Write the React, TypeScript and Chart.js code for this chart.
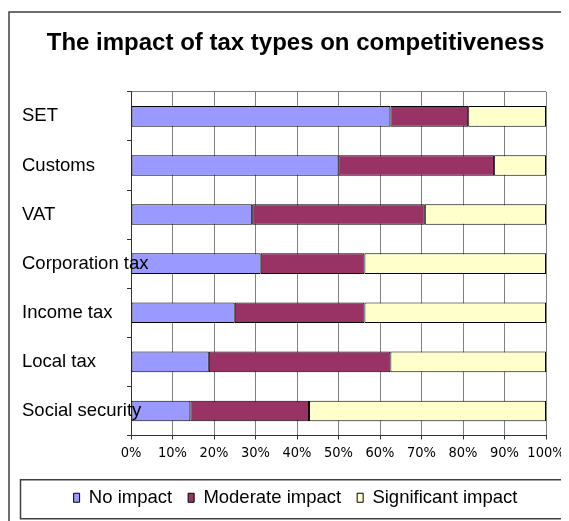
import React, { useEffect, useRef } from "react";
import { Chart, registerables } from "chart.js";

Chart.register(...registerables);

const categories = ["SET", "Customs", "VAT", "Corporation tax", "Income tax", "Local tax", "Social security"];
const noImpact = [62.5, 50, 29.2, 31.25, 25, 18.75, 14.3];
const moderateImpact = [18.75, 37.5, 41.6, 25, 31.25, 43.75, 28.6];
const significantImpact = [18.75, 12.5, 29.2, 43.75, 43.75, 37.5, 57.1];
const seriesNames = ["No impact", "Moderate impact", "Significant impact"];
const seriesColors = ["#9999FF", "#993366", "#FFFFCC"];
const xTicks = [0, 10, 20, 30, 40, 50, 60, 70, 80, 90, 100];
const titleText = "The impact of tax types on competitiveness";

const SANS = '"Liberation Sans", Arial, sans-serif';
const NARROW = '"DejaVu Sans Condensed", "Liberation Sans Narrow", "Arial Narrow", "Liberation Sans", Arial, sans-serif';

const LEGEND_PAD = 16;
const LEGEND_FONT = 18.5;
const Y_AXIS_WIDTH = 109;

const framePlugin = {
  id: "frames",
  afterDraw(chart: any) {
    const ctx = chart.ctx;
    ctx.save();
    ctx.strokeStyle = "#404040";
    ctx.lineWidth = 1.5;
    ctx.beginPath();
    ctx.moveTo(1, chart.height + 10);
    ctx.lineTo(1, 4);
    ctx.lineTo(chart.width + 10, 4);
    ctx.stroke();
    const lg = chart.legend;
    if (lg) {
      const cy = lg.top + LEGEND_PAD + LEGEND_FONT / 2;
      ctx.lineWidth = 1.5;
      ctx.strokeRect(12.5, cy - 18, chart.width - 19, 39);
    }
    ctx.restore();
  },
};

const zeroPad = (s: any) => {
  s.paddingLeft = 0;
  s.paddingRight = 0;
  s.paddingTop = 0;
  s.paddingBottom = 0;
};

export default function App() {
  const ref = useRef<HTMLCanvasElement | null>(null);
  useEffect(() => {
    if (!ref.current) return;
    const values = [noImpact, moderateImpact, significantImpact];
    const chart = new Chart(ref.current, {
      type: "bar",
      data: {
        labels: categories,
        datasets: seriesNames.map((name, i) => ({
          label: name,
          data: values[i],
          backgroundColor: seriesColors[i],
          borderColor: "#000000",
          borderWidth: 1,
          borderSkipped: false,
          barPercentage: 0.42,
          categoryPercentage: 1,
        })),
      },
      options: {
        indexAxis: "y",
        animation: false,
        responsive: false,
        maintainAspectRatio: false,
        layout: { padding: { left: 14, right: 0, top: 0, bottom: 4 } },
        plugins: {
          title: {
            display: true,
            text: titleText,
            color: "#000",
            font: { family: SANS, size: 24, weight: "bold" },
            padding: { top: 21, bottom: 34 },
          },
          legend: {
            position: "bottom",
            align: "center",
            labels: {
              color: "#000",
              font: { family: SANS, size: LEGEND_FONT },
              boxWidth: 6,
              boxHeight: 9,
              padding: LEGEND_PAD,
            },
          },
          tooltip: { enabled: false },
        },
        scales: {
          x: {
            type: "linear",
            stacked: true,
            min: 0,
            max: 100,
            afterBuildTicks: (s: any) => {
              s.ticks = xTicks.map((v) => ({ value: v }));
            },
            afterFit: (s: any) => {
              s.height = 37;
              zeroPad(s);
            },
            ticks: {
              color: "#000",
              font: { family: NARROW, size: 14.5 },
              padding: 5,
              callback: (v: any) => v + "%",
              maxRotation: 0,
              autoSkip: false,
            },
            grid: {
              color: "#808080",
              tickColor: "#333333",
              tickLength: 4,
              lineWidth: 1,
            },
            border: { display: true, color: "#333333", width: 1 },
          },
          y: {
            type: "category",
            stacked: true,
            position: "left",
            afterFit: (s: any) => {
              s.width = Y_AXIS_WIDTH;
              zeroPad(s);
            },
            ticks: {
              color: "#000",
              font: { family: SANS, size: 18.5 },
              mirror: true,
              padding: -Y_AXIS_WIDTH,
              autoSkip: false,
              z: 1,
            },
            grid: {
              offset: true,
              drawOnChartArea: true,
              color: (c: any) => (c.index === 0 ? "#808080" : "rgba(0,0,0,0)"),
              tickColor: "#333333",
              tickLength: 4,
            },
            border: { display: true, color: "#333333", width: 1 },
          },
          yRight: {
            type: "category",
            position: "right",
            display: true,
            afterFit: (s: any) => {
              s.width = 23;
              zeroPad(s);
            },
            ticks: { display: false },
            grid: { display: false, drawTicks: false },
            border: { display: false },
          },
        },
      },
      plugins: [framePlugin],
    } as any);
    return () => chart.destroy();
  }, []);

  return (
    <div style={{ width: 561, height: 513 }}>
      <canvas ref={ref} width={561} height={513} style={{ display: "block" }} />
    </div>
  );
}
